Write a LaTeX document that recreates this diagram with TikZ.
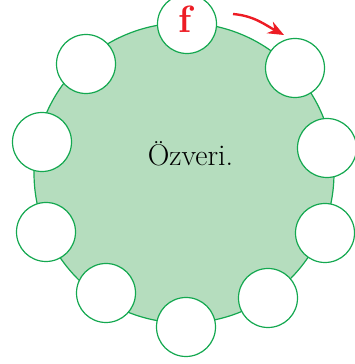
\documentclass[tikz,border=0pt]{standalone}
\usepackage{xcolor}
\usetikzlibrary{arrows.meta}

\definecolor{yesil}{RGB}{20,168,80}
\definecolor{zemin}{RGB}{181,221,190}
\definecolor{kirmizi}{RGB}{237,28,36}

\begin{document}
\begin{tikzpicture}[
    x=1pt, y=1pt,
    halka/.style={circle, draw=yesil, fill=white, line width=1.2pt,
                  minimum size=59pt, inner sep=0pt},
    ok/.style={-{Stealth[length=16pt, width=13pt]}, line width=2.4pt, draw=kirmizi}
  ]
  \useasboundingbox (0,0) rectangle (355,364);

  % large circle
  \node[circle, draw=yesil, fill=zemin, line width=1.2pt,
        minimum size=300pt, inner sep=0pt] (orta) at (184,191) {};
  \node[anchor=base, font=\fontsize{30}{32}\selectfont] (yazi) at (190.5,198) {Özveri.};

  % small circles
  \node[halka] (h0) at (187,340) {};
  \node[halka] (h1) at (295,296) {};
  \node[halka] (h2) at (327,216) {};
  \node[halka] (h3) at (325,131) {};
  \node[halka] (h4) at (268,66)  {};
  \node[halka] (h5) at (186,37)  {};
  \node[halka] (h6) at (106,71)  {};
  \node[halka] (h7) at (46,132)  {};
  \node[halka] (h8) at (42,222)  {};
  \node[halka] (h9) at (86,300)  {};

  \node[anchor=base, text=kirmizi, font=\fontsize{38}{40}\selectfont\bfseries] (harf) at (185.5,331) {f};

  % arrow
  \coordinate (ob) at (233,350);
  \coordinate (os) at (284,329);
  \draw[ok] (ob) to[out=-5, in=152] (os);
\end{tikzpicture}
\end{document}
